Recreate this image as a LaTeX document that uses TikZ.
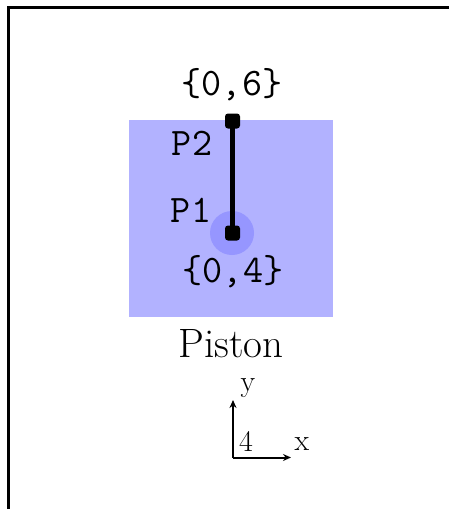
\documentclass[tikz,border=0pt]{standalone}
\usepackage{fontspec}
\usetikzlibrary{arrows.meta}
\definecolor{pistonblue}{RGB}{178,178,255}
\definecolor{pointblue}{RGB}{150,150,255}
\tikzset{
  mono/.style={inner sep=0pt, anchor=base, font=\ttfamily\fontsize{39}{39}\selectfont},
  serifbig/.style={inner sep=0pt, anchor=base, font=\fontsize{41}{41}\selectfont},
  serifsmall/.style={inner sep=0pt, anchor=base, font=\fontsize{30}{30}\selectfont},
  endpt/.style={fill=black, minimum size=15pt, inner sep=0pt, rounded corners=3pt},
  axis/.style={line width=2pt, -{Stealth[length=8pt,width=7pt]}},
}
\begin{document}
\begin{tikzpicture}[x=1pt,y=-1pt]
\useasboundingbox (0,0) rectangle (449,509);
% frame
\draw[line width=2.5pt] (8.5,509) -- (8.5,7.5) -- (449,7.5);
% piston body
\fill[pistonblue] (129,120) rectangle (333,317);
\fill[pointblue] (232,233) circle (22);
% segment
\node[endpt] (p2) at (232.5,121) {};
\node[endpt] (p1) at (232.5,233) {};
\draw[line width=4.5pt] (p1.center) -- (p2.center);
% labels
\node[mono] (t6) at (232,95) {\{0,6\}};
\node[mono] (t4) at (233,282) {\{0,4\}};
\node[mono] (lp2) at (192,155) {P2};
\node[mono] (lp1) at (191,222) {P1};
\node[serifbig] (piston) at (231,357) {Piston};
% axes
\coordinate (o) at (233,457.5);
\coordinate (ytip) at (233,400);
\coordinate (xtip) at (291,457.5);
\draw[axis] (o) -- (ytip);
\draw[axis] (o) -- (xtip);
\node[serifsmall] (ly) at (248,391) {y};
\node[serifsmall] (l4) at (246,451) {4};
\node[serifsmall] (lx) at (302,450) {x};
\end{tikzpicture}
\end{document}
